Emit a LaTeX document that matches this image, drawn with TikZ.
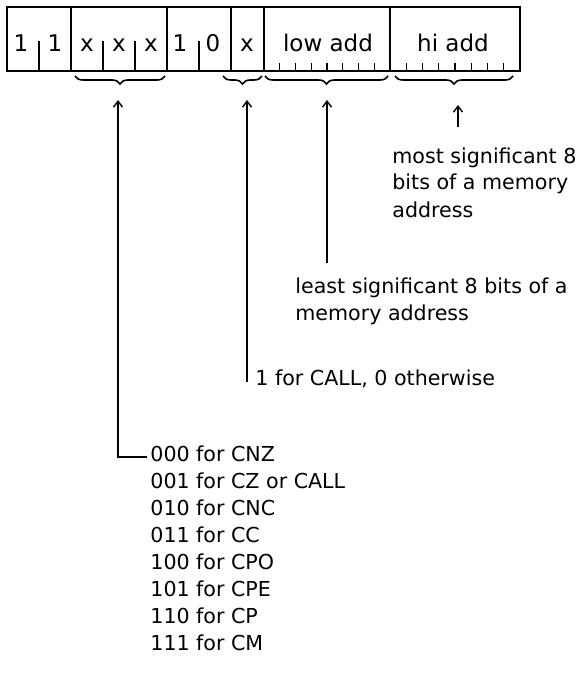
\documentclass[tikz,border=0pt]{standalone}
\usepackage{fontspec}
\setmainfont{DejaVu Sans}
\usetikzlibrary{arrows.meta, decorations.pathreplacing, positioning}
\tikzset{
  field/.style   = {draw, line width=0.9pt, minimum height=32pt,
                    inner sep=0pt, outer sep=0pt, anchor=north west},
  bit/.style     = {font=\fontsize{11.5}{13}\selectfont, anchor=base,
                    inner sep=0pt},
  % multi-line notes sit on the baseline of their last line
  note/.style    = {font=\fontsize{10.3}{13.5}\selectfont, align=left,
                    anchor=base west, inner sep=0pt},
  divtick/.style = {line width=0.9pt},
  bittick/.style = {line width=0.7pt},
  grp/.style     = {decorate, decoration={brace, mirror, amplitude=4pt},
                    line width=0.8pt},
  ptr/.style     = {-{Straight Barb[length=3pt, width=4.5pt]},
                    line width=0.7pt},
}

\begin{document}
\begin{tikzpicture}[x=0.5pt, y=-0.5pt]
  \useasboundingbox (0,0) rectangle (580,684);

  %% ================ the instruction word ================
  \node[field, minimum width=32pt] (ones) at (7,7) {};
  \node[field, minimum width=48pt, right=0pt of ones] (cond) {};
  \node[field, minimum width=32pt, right=0pt of cond] (onezero) {};
  \node[field, minimum width=16.5pt, right=0pt of onezero] (callbit) {};
  \node[field, minimum width=63pt, right=0pt of callbit] (low) {};
  \node[field, minimum width=65pt, right=0pt of low] (high) {};

  \foreach \x in {39,103,135,199}
    \draw[divtick] (\x,71) -- (\x,41);
  \foreach \i in {1,...,7} {
    \draw[bittick] (264+\i*15.75,71) -- (264+\i*15.75,63);
    \draw[bittick] (390+\i*16.25,71) -- (390+\i*16.25,63);
  }

  \foreach \x/\b in {21/1, 55/1, 87/x, 119/x, 151/x, 180/1, 213/0, 247/x}
    \node[bit] (bit\x) at (\x,52) {\b};
  \node[bit] (lowtxt) at (328,52) {low add};
  \node[bit] (hightxt) at (453,52) {hi add};

  %% ---------------- groupings ----------------
  \draw[grp] (75,76) -- (165,76);
  \draw[grp] (223,76) -- (262,76);
  \draw[grp] (265,76) -- (388,76);
  \draw[grp] (395,76) -- (513,76);

  %% ================ what each part means ================
  \node[note] (msb) at (392,217)
       {most significant 8\\bits of a memory\\address};
  \node[note] (lsb) at (295,320)
       {least significant 8 bits of a\\memory address};
  \node[note] (callnote) at (255,385) {1 for CALL, 0 otherwise};
  \node[note] (codes) at (150,650)
       {000 for CNZ\\001 for CZ or CALL\\010 for CNC\\011 for CC\\
        100 for CPO\\101 for CPE\\110 for CP\\111 for CM};

  \coordinate (condtip) at (118,100);
  \coordinate (calltip) at (247,100);
  \coordinate (lowtip)  at (327,100);
  \coordinate (hightip) at (458,105);
  \coordinate (condfoot) at (147,457);
  \coordinate (callfoot) at (247,382);
  \coordinate (lowfoot)  at (327,263);
  \coordinate (highfoot) at (458,127);

  \draw[ptr] (condfoot) -| (condtip);
  \draw[ptr] (callfoot) -- (calltip);
  \draw[ptr] (lowfoot) -- (lowtip);
  \draw[ptr] (highfoot) -- (hightip);

\end{tikzpicture}
\end{document}
